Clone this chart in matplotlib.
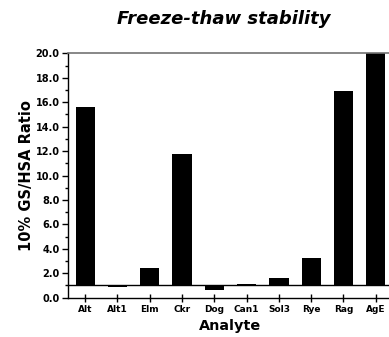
import numpy as np
import matplotlib
matplotlib.use("Agg")
import matplotlib.pyplot as plt
from matplotlib.ticker import MultipleLocator, FormatStrFormatter

plt.rcParams['font.family'] = ['DejaVu Sans']

analytes = ['Alt', 'Alt1', 'Elm', 'Ckr', 'Dog', 'Can1', 'Sol3', 'Rye', 'Rag', 'AgE']
ratios = [15.6, 0.88, 2.43, 11.75, 0.6, 1.15, 1.6, 3.25, 16.9, 20.5]
baseline = 1.0

fig = plt.figure(figsize=(3.89, 3.37), dpi=100)
ax = fig.add_axes([0.175, 0.1166, 0.835, 0.725])

x = np.arange(len(analytes))
heights = [r - baseline for r in ratios]
ax.bar(x, heights, bottom=baseline, width=0.6, color='black')
ax.axhline(baseline, color='black', lw=1.0)

ax.set_xlim(-0.53, 9.53)
ax.set_ylim(0, 20)
ax.yaxis.set_major_locator(MultipleLocator(2))
ax.yaxis.set_minor_locator(MultipleLocator(1))
ax.yaxis.set_major_formatter(FormatStrFormatter('%.1f'))
ax.set_xticks(x)
ax.set_xticklabels(analytes)

ax.tick_params(axis='y', which='major', direction='out', length=4, width=1, labelsize=7, pad=2)
ax.tick_params(axis='y', which='minor', direction='out', length=2.5, width=1)
ax.tick_params(axis='x', direction='inout', length=6, width=1, labelsize=6.5, pad=2)
for lab in ax.get_xticklabels() + ax.get_yticklabels():
    lab.set_fontweight('bold')

ax.spines['right'].set_visible(False)
ax.spines['top'].set_color('0.45')
ax.spines['top'].set_linewidth(1.2)
ax.spines['left'].set_linewidth(1.0)
ax.spines['bottom'].set_linewidth(1.0)

ax.set_xlabel('Analyte', fontsize=10.4, fontweight='bold', labelpad=4)
ax.set_ylabel('10% GS/HSA Ratio', fontsize=10.5, fontweight='bold', labelpad=1)
fig.text(0.576, 0.945, 'Freeze-thaw stability', ha='center', va='center',
         fontsize=13, fontweight='bold', fontstyle='italic')

fig.savefig('out.png', dpi=100)
